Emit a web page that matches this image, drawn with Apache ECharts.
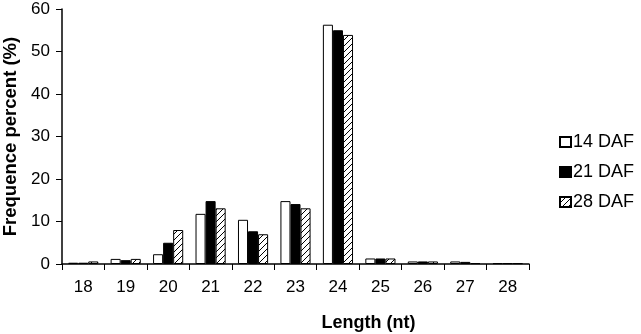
<!DOCTYPE html>
<html><head><meta charset="utf-8">
<script src="https://cdn.jsdelivr.net/npm/echarts@6/dist/echarts.min.js"></script>
<style>html,body{margin:0;padding:0;background:#fff}#c{width:641px;height:334px}</style>
</head><body><div id="c"></div>
<script>
var categories = ['18','19','20','21','22','23','24','25','26','27','28'];
var daf14 = [0.3, 1.2, 2.3, 11.8, 10.4, 14.8, 56.3, 1.3, 0.6, 0.6, 0.2];
var daf21 = [0.3, 0.9, 5.0, 14.8, 7.7, 14.1, 55.0, 1.3, 0.6, 0.5, 0.2];
var daf28 = [0.6, 1.2, 8.0, 13.1, 7.0, 13.1, 53.9, 1.3, 0.6, 0.2, 0.2];
var seriesNames = ['14 DAF', '21 DAF', '28 DAF'];
var yTicks = [0, 10, 20, 30, 40, 50, 60];

function hatch() {
  var c = document.createElement('canvas');
  c.width = 6; c.height = 6;
  var g = c.getContext('2d');
  g.fillStyle = '#fff'; g.fillRect(0, 0, 6, 6);
  g.strokeStyle = '#000'; g.lineWidth = 1;
  g.beginPath();
  g.moveTo(0, 6); g.lineTo(6, 0);
  g.moveTo(-1, 1); g.lineTo(1, -1);
  g.moveTo(5, 7); g.lineTo(7, 5);
  g.stroke();
  return c;
}
var font = 'Liberation Sans, Arial, sans-serif';
var chart = echarts.init(document.getElementById('c'), null, {renderer: 'canvas'});
var fills = ['#ffffff', '#000000', {image: hatch(), repeat: 'repeat'}];
var datas = [daf14, daf21, daf28];
chart.setOption({
  animation: false,
  backgroundColor: '#fff',
  grid: {left: 62, right: 112, top: 9, bottom: 70, containLabel: false, outerBoundsMode: 'none'},
  legend: {
    orient: 'vertical', left: 554, top: 128, itemWidth: 11, itemHeight: 10, itemGap: 12,
    icon: 'rect',
    textStyle: {fontFamily: font, fontSize: 18, color: '#000', padding: [0, 0, 0, -3]},
    data: seriesNames
  },
  xAxis: {
    type: 'category', data: categories,
    name: 'Length (nt)', nameLocation: 'middle', nameGap: 50,
    nameTextStyle: {fontFamily: font, fontSize: 18, fontWeight: 'bold', color: '#000', padding: [0, 0, 0, 146]},
    axisLine: {lineStyle: {color: '#000', width: 1.5}},
    axisTick: {show: true, length: 6, lineStyle: {color: '#000'}},
    axisLabel: {fontFamily: font, fontSize: 17, color: '#000', margin: 15}
  },
  yAxis: {
    type: 'value', min: yTicks[0], max: yTicks[yTicks.length - 1], interval: 10,
    name: 'Frequence percent (%)', nameLocation: 'middle', nameGap: 42,
    nameTextStyle: {fontFamily: font, fontSize: 18.5, fontWeight: 'bold', color: '#000'},
    axisLine: {show: true, lineStyle: {color: '#000', width: 1.5}},
    axisTick: {show: true, length: 6, lineStyle: {color: '#000'}},
    splitLine: {show: false},
    axisLabel: {fontFamily: font, fontSize: 17, color: '#000', margin: 12}
  },
  series: seriesNames.map(function (n, i) {
    return {
      name: n, type: 'bar', data: datas[i], barGap: '0%', barCategoryGap: '29%',
      itemStyle: {color: fills[i], borderColor: '#000', borderWidth: 1}
    };
  })
});
</script></body></html>
